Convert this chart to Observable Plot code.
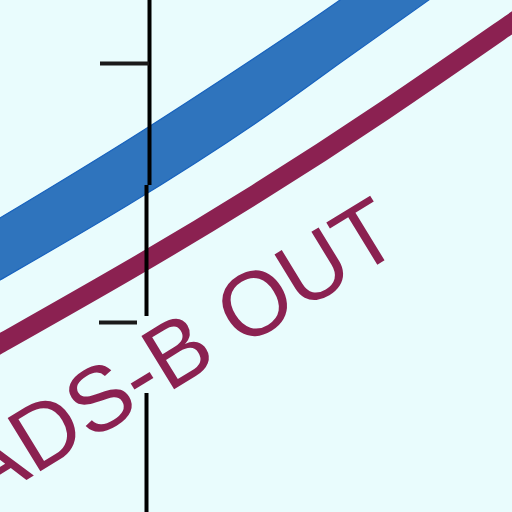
<!DOCTYPE html>
<html>
<head>
<meta charset="utf-8">
<script src="https://cdn.jsdelivr.net/npm/d3@7"></script>
<script src="https://cdn.jsdelivr.net/npm/@observablehq/plot@0.6"></script>
<style>
  html, body { margin: 0; padding: 0; background: #e9fcfd; }
  #chart svg { display: block; background: #e9fcfd; }
</style>
</head>
<body>
<div id="chart"></div>
<script>
// values (pixel units, y grows downward)
const bandX     = [-10, 0, 128, 256, 340, 440];
const bandTop   = [224, 218, 140, 57, 0, -72];
const bandBot   = [286, 280, 205, 123, 63, -8];

const lineX     = [-10, 0, 128, 256, 384, 512, 530];
const lineY     = [349, 343, 270, 193, 110, 22, 10];

const axisX     = [149, 146, 146];
const axisFrom  = [0, 185, 393];
const axisTo    = [185, 316, 520];

const tickY     = [63, 322];
const tickFrom  = [100, 99];
const tickTo    = [149, 137];

const label = "ADS-B OUT";

const band = bandX.map((x, i) => ({x, top: bandTop[i], bot: bandBot[i]}));
const line = lineX.map((x, i) => ({x, y: lineY[i]}));
const axis = axisX.map((x, i) => ({x, y1: axisFrom[i], y2: axisTo[i]}));
const ticks = tickY.map((y, i) => ({y, x1: tickFrom[i], x2: tickTo[i]}));

let chart = Plot.plot({
  width: 512,
  height: 512,
  margin: 0,
  x: {domain: [0, 512], range: [0, 512], axis: null},
  y: {domain: [0, 512], range: [0, 512], axis: null},
  style: {background: "#e9fcfd"},
  marks: [
    Plot.areaY(band, {x: "x", y1: "top", y2: "bot", fill: "#2f74bd", stroke: "#1862bd", strokeWidth: 1.2, curve: "natural"}),
    Plot.line(line, {x: "x", y: "y", stroke: "#8b2151", strokeWidth: 19, curve: "natural"}),
    Plot.ruleX(axis, {x: "x", y1: "y1", y2: "y2", stroke: "#000", strokeWidth: 4}),
    Plot.ruleY(ticks, {y: "y", x1: "x1", x2: "x2", stroke: "#1a1a1a", strokeWidth: 4}),
    Plot.text([label], {
      x: () => 193, y: () => 377,
      text: d => d,
      rotate: -31.5,
      textAnchor: "middle",
      lineAnchor: "bottom",
      fontSize: 91,
      fontFamily: "Liberation Sans, Arial, sans-serif",
      fill: "#8b2151"
    })
  ]
});
d3.select("#chart").append(() => chart);
</script>
</body>
</html>
